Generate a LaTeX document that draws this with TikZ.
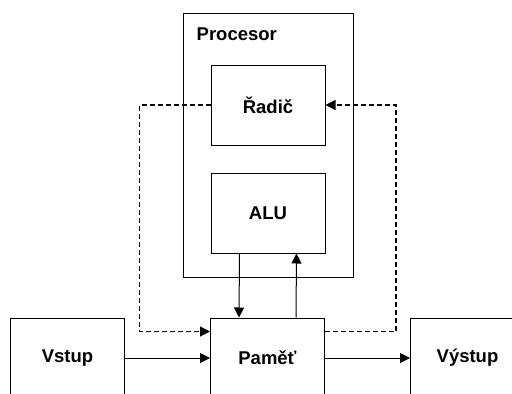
\documentclass[tikz,border=0pt]{standalone}
\usepackage{fontspec}
\setmainfont{Liberation Sans}
\usetikzlibrary{arrows.meta,positioning}

\begin{document}
\begin{tikzpicture}[
  x=1pt, y=-1pt,
  font=\fontsize{18.5}{21}\selectfont\bfseries,
  node distance=27pt and 85pt,
  unit/.style={
    rectangle,
    draw=black,
    line width=1pt,
    minimum width=114pt,
    minimum height=80pt,
    inner sep=0pt
  },
  frame/.style={
    rectangle,
    draw=black,
    line width=1pt,
    minimum width=170pt,
    minimum height=264pt,
    inner sep=0pt
  },
  arrow/.style={-{Triangle[length=10pt,width=10pt]}, line width=1pt},
  dasharrow/.style={-{Triangle[length=10pt,width=10pt]}, dash pattern=on 5pt off 3pt, line width=1.1pt}
]
  \useasboundingbox (0,0) rectangle (512,394);
  \clip (0,0) rectangle (512,394);

  \node[frame] (procesor) at (268,145) {};
  \node[anchor=west, inner sep=0pt] (proclabel) at ([xshift=14pt,yshift=-22pt]procesor.north west) {Procesor};

  \node[unit] (radic) at (268,105) {Řadič};
  \node[unit, below=of radic] (alu) {ALU};

  \node[unit] (pamet) at (267.5,358) {Paměť};
  \node[unit, left=of pamet] (vstup) {Vstup};
  \node[unit, right=of pamet] (vystup) {Výstup};

  \draw[arrow] (vstup) -- (pamet);
  \draw[arrow] (pamet) -- (vystup);
  \draw[arrow] ([xshift=-28.5pt]alu.south) -- ([xshift=-28.5pt]pamet.north);
  \draw[arrow] ([xshift=28.5pt]pamet.north) -- ([xshift=28.5pt]alu.south);

  \draw[dasharrow] (radic.west) -- ++(-71,0) |- ([yshift=-14pt]pamet.north west);
  \draw[dasharrow] ([yshift=-14pt]pamet.north east) -- ++(71,0) |- (radic.east);
\end{tikzpicture}
\end{document}
